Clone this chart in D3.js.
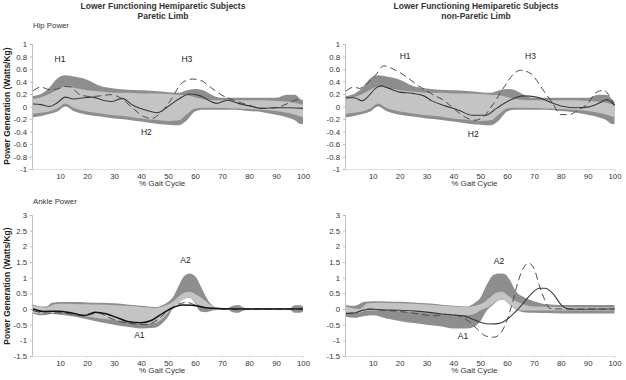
<!DOCTYPE html>
<html>
<head>
<meta charset="utf-8">
<style>
  body { margin: 0; background: #fff; }
  text { font-family: "Liberation Sans", Arial, sans-serif; }
  .tick text { font-size: 7.8px; fill: #333; }
  .axis path, .axis line { stroke: #b0b0b0; stroke-width: 0.8; }
  .xaxis path, .xaxis line { stroke: #d8d8d8; }
</style>
</head>
<body>
<svg id="chart" width="626" height="380"></svg>
<script src="https://cdn.jsdelivr.net/npm/d3@7/dist/d3.min.js"></script>
<script>
// ---- data ----
const xTicks = [10, 20, 30, 40, 50, 60, 70, 80, 90, 100]
const hipTicks = [1, 0.8, 0.6, 0.4, 0.2, 0, -0.2, -0.4, -0.6, -0.8, -1]
const ankleTicks = [3, 2.5, 2, 1.5, 1, 0.5, 0, -0.5, -1, -1.5]

// normal bands [gait %, upper, lower]
const hipDark = [[0,0.17,-0.17],[3,0.2,-0.15],[6,0.3,-0.12],[9,0.45,-0.08],[12,0.5,0],[15,0.48,-0.07],[20,0.43,-0.13],[25,0.33,-0.16],[30,0.29,-0.19],[35,0.27,-0.21],[40,0.26,-0.24],[45,0.25,-0.27],[50,0.23,-0.29],[54,0.22,-0.3],[57,0.26,-0.22],[60,0.28,-0.08],[63,0.26,-0.05],[67,0.17,-0.05],[70,0.14,-0.05],[75,0.14,-0.05],[80,0.14,-0.07],[85,0.14,-0.09],[90,0.14,-0.13],[94,0.19,-0.17],[97,0.19,-0.22],[99,0.12,-0.28],[100,0.07,-0.28]]
const hipLight = [[0,0.12,-0.12],[3,0.15,-0.1],[6,0.2,-0.08],[9,0.27,-0.03],[12,0.32,0.05],[15,0.3,-0.02],[20,0.26,-0.08],[25,0.24,-0.11],[30,0.22,-0.14],[35,0.22,-0.16],[40,0.21,-0.19],[45,0.21,-0.21],[50,0.2,-0.23],[54,0.19,-0.22],[57,0.18,-0.12],[60,0.15,-0.03],[63,0.12,-0.02],[67,0.1,-0.02],[75,0.1,-0.03],[80,0.1,-0.04],[85,0.1,-0.05],[90,0.09,-0.07],[94,0.08,-0.1],[97,0.06,-0.13],[100,0.03,-0.17]]
const ankleParDark = [[0,0.14,-0.15],[3,0.08,-0.2],[5,0.08,-0.18],[7,0.2,-0.16],[10,0.22,-0.18],[15,0.22,-0.24],[20,0.21,-0.33],[25,0.2,-0.42],[30,0.18,-0.5],[35,0.14,-0.57],[40,0.1,-0.62],[45,0.06,-0.6],[48,0.12,-0.45],[50,0.22,-0.25],[52,0.4,0.05],[54,0.75,0.2],[56,1.05,0.33],[58,1.13,0.36],[60,1.05,0.18],[62,0.75,-0.08],[64,0.4,-0.1],[66,0.15,-0.06],[68,0.05,-0.03],[72,0.03,-0.02],[74,0.1,-0.1],[76,0.13,-0.12],[78,0.05,-0.05],[80,0.02,-0.02],[95,0.02,-0.02],[97,0.12,-0.12],[99,0.12,-0.12],[100,0.08,-0.08]]
const ankleParLight = [[0,0.1,-0.12],[5,0.05,-0.15],[8,0.15,-0.12],[10,0.17,-0.12],[15,0.16,-0.17],[20,0.15,-0.24],[25,0.14,-0.3],[30,0.12,-0.35],[35,0.1,-0.42],[40,0.06,-0.48],[45,0.03,-0.45],[48,0.08,-0.3],[50,0.14,-0.12],[52,0.25,0.05],[54,0.4,0.2],[56,0.52,0.33],[58,0.55,0.36],[60,0.48,0.2],[62,0.38,0.1],[64,0.25,0.05],[66,0.12,0],[68,0.04,-0.02],[70,0.02,-0.02],[100,0.02,-0.02]]
const ankleNonDark = [[0,0.13,-0.25],[3,0.1,-0.28],[7,0.23,-0.22],[10,0.25,-0.2],[15,0.24,-0.3],[20,0.23,-0.38],[25,0.21,-0.45],[30,0.18,-0.5],[35,0.14,-0.55],[40,0.1,-0.62],[45,0.08,-0.62],[48,0.2,-0.55],[50,0.35,-0.4],[52,0.7,-0.1],[55,1.09,0.15],[57,1.13,0.28],[59,1.12,0.3],[61,0.93,0.18],[63,0.6,0.0],[66,0.39,-0.1],[70,0.25,-0.12],[75,0.15,-0.13],[80,0.13,-0.14],[100,0.13,-0.14]]
const ankleNonLight = [[0,0.08,-0.1],[5,0,-0.12],[8,0.18,-0.05],[12,0.2,-0.05],[20,0.18,-0.08],[30,0.14,-0.12],[40,0.08,-0.18],[45,0.06,-0.2],[48,0.1,-0.15],[50,0.15,-0.05],[52,0.25,0.02],[54,0.4,0.12],[56,0.52,0.25],[58,0.55,0.3],[60,0.45,0.2],[62,0.32,0.05],[64,0.22,-0.05],[67,0.12,-0.05],[70,0.08,-0.05],[100,0.05,-0.05]]

// subject curves [gait %, value]
const hipParSolid = [[0,0.04],[3,0.03],[6,0],[9,0.06],[12,0.15],[15,0.12],[19,0.14],[22,0.15],[26,0.1],[29,0.08],[33,0.13],[37,0.02],[42,-0.06],[46,-0.1],[50,0],[54,0.12],[58,0.2],[62,0.17],[65,0.1],[68,0.05],[72,0.1],[76,0.05],[80,0.01],[85,-0.03],[90,-0.02],[95,-0.02],[100,-0.03]]
const hipParDash = [[0,0.25],[3,0.31],[6,0.27],[9,0.28],[12,0.32],[14,0.31],[17,0.2],[21,0.16],[25,0.17],[29,0.19],[33,0.12],[37,-0.03],[41,-0.16],[44,-0.19],[47,-0.11],[51,0.1],[55,0.37],[59,0.44],[62,0.42],[66,0.3],[70,0.18],[75,0.09],[80,0.02],[85,-0.03],[90,-0.02],[95,0.06],[98,0.11],[100,0.09]]
const hipNonSolid = [[0,0.14],[3,0.14],[6,0.09],[8,0.15],[11,0.29],[13,0.33],[16,0.29],[20,0.23],[25,0.21],[29,0.17],[32,0.09],[37,0.01],[42,-0.06],[47,-0.14],[52,-0.14],[56,-0.03],[61,0.1],[66,0.17],[71,0.15],[76,0.07],[81,0],[86,-0.02],[90,-0.01],[95,0.07],[97,0.11],[100,0.02]]
const hipNonDash = [[0,0.25],[3,0.31],[5,0.29],[8,0.37],[11,0.5],[14,0.65],[17,0.61],[22,0.49],[27,0.33],[32,0.2],[37,0.08],[40,-0.03],[44,-0.16],[48,-0.22],[51,-0.17],[55,0.05],[59,0.32],[62,0.5],[65,0.58],[69,0.52],[73,0.29],[77,0.05],[80,-0.13],[83,-0.13],[87,-0.04],[90,0.04],[93,0.22],[96,0.26],[99,0.1],[100,0.02]]
const ankleParSolid = [[0,0],[4,-0.08],[9,-0.07],[14,-0.12],[19,-0.21],[23,-0.1],[27,-0.15],[31,-0.27],[35,-0.4],[40,-0.44],[44,-0.36],[48,-0.14],[52,0.05],[55,0.13],[59,0.12],[64,0.04],[70,0.01],[80,0],[100,0]]
const ankleParDash = [[0,-0.05],[5,-0.13],[10,-0.12],[15,-0.17],[20,-0.2],[24,-0.12],[28,-0.27],[33,-0.42],[38,-0.48],[42,-0.5],[46,-0.35],[50,-0.05],[53,0.12],[57,0.21],[60,0.13],[64,0.04],[70,0],[100,0]]
const ankleNonSolid = [[0,-0.15],[3,-0.13],[6,-0.05],[9,0],[14,-0.03],[20,-0.04],[25,-0.06],[30,-0.1],[35,-0.15],[40,-0.19],[44,-0.22],[47,-0.32],[50,-0.42],[54,-0.48],[57,-0.46],[60,-0.33],[63,-0.1],[66,0.18],[69,0.48],[72,0.66],[74,0.66],[77,0.5],[80,0.15],[82,0.02],[85,-0.01],[100,0]]
const ankleNonDash = [[0,-0.15],[4,-0.1],[8,0],[12,-0.03],[16,-0.05],[20,-0.08],[25,-0.13],[30,-0.2],[33,-0.22],[37,-0.17],[41,-0.2],[45,-0.35],[49,-0.65],[52,-0.86],[55,-0.9],[58,-0.72],[60,-0.35],[62,0.2],[64,0.85],[66,1.3],[68,1.46],[70,1.3],[72,0.75],[74,0.3],[76,0.02],[80,0],[100,0]]

// peak labels [text, gait %, value]
const hipParPeaks = [["H1",10,0.75],["H3",57,0.75],["H2",42,-0.42]]
const hipNonPeaks = [["H1",22,0.8],["H3",68.7,0.8],["H2",47.4,-0.45]]
const ankleParPeaks = [["A2",56.5,1.55],["A1",39.4,-0.85]]
const ankleNonPeaks = [["A2",57,1.5],["A1",43.6,-0.88]]

// ---- drawing ----
let svg = d3.select("#chart")
svg.append("rect").attr("width", 626).attr("height", 380).attr("fill", "#fff")

let panels = [
    { xr: [33, 303], yr: [169, 44], dom: [-1, 1], ticks: hipTicks, dark: hipDark, light: hipLight,
      solid: hipParSolid, dash: hipParDash, peaks: hipParPeaks, solidColor: "#3a3a3a", solidW: 1.1 },
    { xr: [346, 614.5], yr: [169, 44], dom: [-1, 1], ticks: hipTicks, dark: hipDark, light: hipLight,
      solid: hipNonSolid, dash: hipNonDash, peaks: hipNonPeaks, solidColor: "#3a3a3a", solidW: 1.1 },
    { xr: [33, 303], yr: [356, 215], dom: [-1.5, 3], ticks: ankleTicks, dark: ankleParDark, light: ankleParLight,
      solid: ankleParSolid, dash: ankleParDash, peaks: ankleParPeaks, solidColor: "#111", solidW: 1.5 },
    { xr: [346, 614.5], yr: [356, 215], dom: [-1.5, 3], ticks: ankleTicks, dark: ankleNonDark, light: ankleNonLight,
      solid: ankleNonSolid, dash: ankleNonDash, peaks: ankleNonPeaks, solidColor: "#3a3a3a", solidW: 1.1 }
]

panels.forEach(p => {
    let x = d3.scaleLinear().domain([0, 100]).range(p.xr)
    let y = d3.scaleLinear().domain(p.dom).range(p.yr)
    let g = svg.append("g")

    // dark band first, the lighter one sits on top of it
    let band = d3.area().curve(d3.curveMonotoneX)
        .x(d => x(d[0])).y0(d => y(d[2])).y1(d => y(d[1]))
    g.append("path").datum(p.dark).attr("d", band).attr("fill", "#8e8e8e")
    g.append("path").datum(p.light).attr("d", band).attr("fill", "#c4c4c4")

    let line = d3.line().curve(d3.curveMonotoneX).x(d => x(d[0])).y(d => y(d[1]))
    g.append("path").datum(p.dash).attr("d", line)
        .attr("fill", "none").attr("stroke", "#4a4a4a").attr("stroke-width", 1)
        .attr("stroke-dasharray", "7,4")
    g.append("path").datum(p.solid).attr("d", line)
        .attr("fill", "none").attr("stroke", p.solidColor).attr("stroke-width", p.solidW)

    g.append("g").attr("class", "axis")
        .attr("transform", "translate(" + (p.xr[0] - 1) + ",0)")
        .call(d3.axisLeft(y).tickValues(p.ticks).tickSize(2).tickPadding(3).tickFormat(d => String(d)))
    g.append("g").attr("class", "axis xaxis")
        .attr("transform", "translate(0," + p.yr[0] + ")")
        .call(d3.axisBottom(x).tickValues(xTicks).tickSize(2).tickPadding(2).tickFormat(d => String(d)))

    g.append("text").attr("x", (p.xr[0] + p.xr[1]) / 2 - 6).attr("y", p.yr[0] + 17)
        .attr("text-anchor", "middle").attr("font-size", 8).attr("fill", "#333")
        .text("% Gait Cycle")

    g.selectAll(".peak").data(p.peaks).enter().append("text")
        .attr("x", d => x(d[1])).attr("y", d => y(d[2]))
        .attr("text-anchor", "middle").attr("dominant-baseline", "middle")
        .attr("font-size", 8.5).attr("fill", "#222")
        .text(d => d[0])
})

// titles and side labels
let titles = [[163, "Lower Functioning Hemiparetic Subjects", "Paretic Limb"],
              [476, "Lower Functioning Hemiparetic Subjects", "non-Paretic Limb"]]
titles.forEach(t => {
    svg.append("text").attr("x", t[0]).attr("y", 9).attr("text-anchor", "middle")
        .attr("font-size", 8.5).attr("font-weight", "bold").attr("fill", "#333").text(t[1])
    svg.append("text").attr("x", t[0]).attr("y", 19).attr("text-anchor", "middle")
        .attr("font-size", 8.5).attr("font-weight", "bold").attr("fill", "#333").text(t[2])
})
svg.append("text").attr("x", 33).attr("y", 28).attr("font-size", 7.8).attr("fill", "#333").text("Hip Power")
svg.append("text").attr("x", 33).attr("y", 204).attr("font-size", 7.8).attr("fill", "#333").text("Ankle Power")

let sideLabels = [106, 286]
sideLabels.forEach(cy => {
    svg.append("text").attr("transform", "translate(10," + cy + ") rotate(-90)")
        .attr("text-anchor", "middle").attr("font-size", 8.5).attr("font-weight", "bold")
        .attr("fill", "#222").text("Power Generation (Watts/Kg)")
})
</script>
</body>
</html>
